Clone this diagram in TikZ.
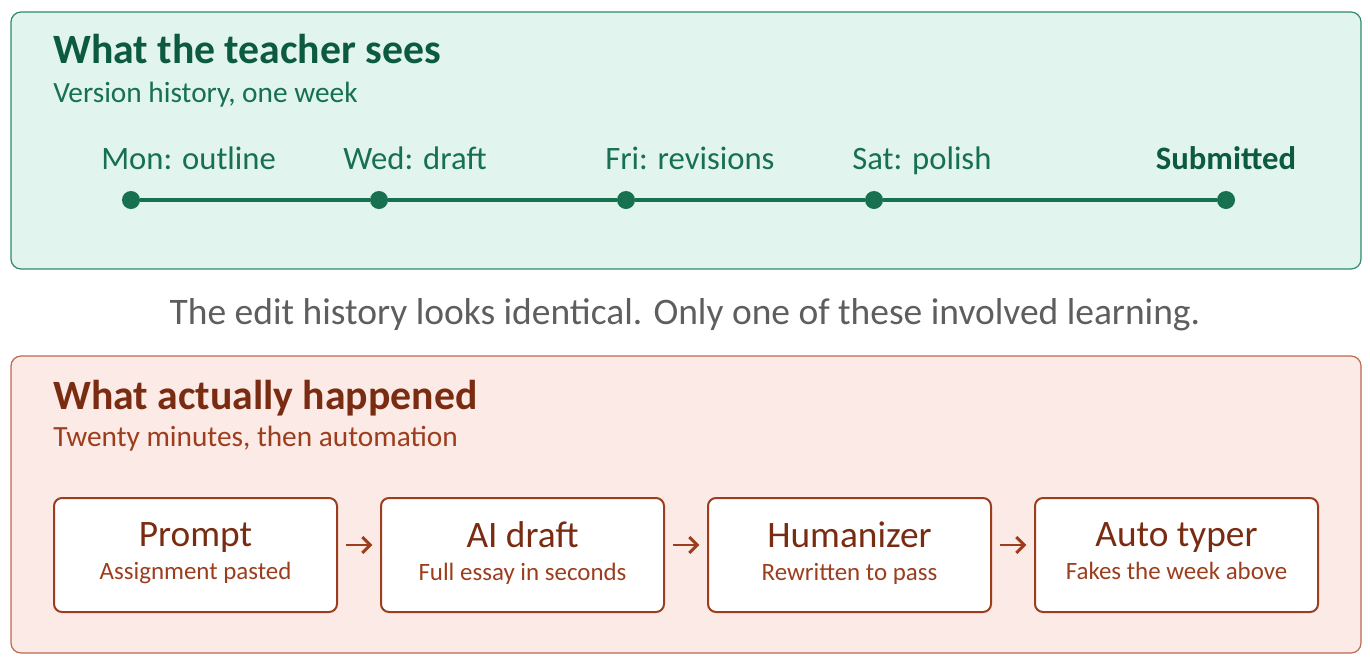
\documentclass[tikz,border=0pt]{standalone}
\usepackage{fontspec}
\setmainfont{Carlito}
\usetikzlibrary{positioning}
\usetikzlibrary{arrows.meta}

\definecolor{seefill}{HTML}{E1F4EE}
\definecolor{seeline}{HTML}{2F8A68}
\definecolor{seedark}{HTML}{0C5A3F}
\definecolor{seemid}{HTML}{17704F}
\definecolor{realfill}{HTML}{FBEAE5}
\definecolor{realline}{HTML}{BB6A4E}
\definecolor{realdark}{HTML}{7A2C12}
\definecolor{realmid}{HTML}{9C3E1E}
\definecolor{midgray}{HTML}{5E5E5E}

\newcommand{\steptitle}[1]{{\fontsize{28pt}{25pt}\selectfont\color{realdark}#1}}
\newcommand{\stepnote}[1]{{\fontsize{18.7pt}{25pt}\selectfont\color{realmid}#1\rule[-6pt]{0pt}{0pt}}}

\begin{document}
\begin{tikzpicture}[x=0.75pt,y=-0.75pt,
    panel/.style={rounded corners=7.5pt,line width=0.9pt},
    paneltitle/.style={anchor=base west,inner sep=0pt,font=\fontsize{31.3pt}{36pt}\selectfont\bfseries},
    panelsub/.style={anchor=base west,inner sep=0pt,font=\fontsize{22pt}{26pt}\selectfont},
    dot/.style={circle,fill=seemid,minimum size=13.5pt,inner sep=0pt},
    daylbl/.style={inner sep=0pt,text=seemid,font=\fontsize{24.5pt}{28pt}\selectfont},
    stepbox/.style={draw=realmid,fill=white,line width=1.5pt,rounded corners=6pt,outer sep=0pt,
      minimum width=212.25pt,minimum height=85.5pt,align=center,
      font=\fontsize{18.7pt}{24.75pt}\selectfont},
    stepflow/.style={-{Straight Barb[length=6pt,width=12pt,line width=2.2pt]},draw=realmid,line width=2.2pt,
      shorten <=7pt,shorten >=6.5pt}]
  \useasboundingbox (0,0) rectangle (1370,665);

  % upper panel: the version history
  \draw[panel,draw=seeline,fill=seefill] (11,12) rectangle (1361,269);
  \node[paneltitle,text=seedark] (seetitle) at (53,63) {What the teacher sees};
  \node[panelsub,text=seemid] (seesub) at (53,102) {Version history, one week};

  \foreach \x/\n in {131/mon,379/wed,626/fri,874/sat,1226/sub}
    \node[dot] (\n) at (\x,200) {};
  \draw[seemid,line width=2.6pt] (mon) -- (wed) -- (fri) -- (sat) -- (sub);

  \foreach \x/\n/\t in {101/mon/Mon: outline,343/wed/Wed: draft,605/fri/Fri: revisions,852/sat/Sat: polish}
    \node[daylbl,anchor=base west] (\n-lbl) at (\x,169) {\t};
  \node[daylbl,anchor=base,font=\fontsize{24.5pt}{28pt}\selectfont\bfseries,text=seedark] (sub-lbl) at (1226,169) {Submitted};

  \node[anchor=base,inner sep=0pt,text=midgray,font=\fontsize{28.1pt}{32pt}\selectfont] (gapnote) at (685,324)
    {The edit history looks identical. Only one of these involved learning.};

  % lower panel: the pipeline
  \draw[panel,draw=realline,fill=realfill] (11,356) rectangle (1361,653);
  \node[paneltitle,text=realdark] (realtitle) at (53,409) {What actually happened};
  \node[panelsub,text=realmid] (realsub) at (53,446) {Twenty minutes, then automation};

  \node[stepbox] (prompt) at (195.5,555) {\steptitle{Prompt}\\\stepnote{Assignment pasted}};
  \node[stepbox,right=33pt of prompt] (aidraft) {\steptitle{AI draft}\\\stepnote{Full essay in seconds}};
  \node[stepbox,right=33pt of aidraft] (human) {\steptitle{Humanizer}\\\stepnote{Rewritten to pass}};
  \node[stepbox,right=33pt of human] (typer) {\steptitle{Auto typer}\\\stepnote{Fakes the week above}};

  \draw[stepflow] ([yshift=7.5pt]prompt.east) -- ([yshift=7.5pt]aidraft.west);
  \draw[stepflow] ([yshift=7.5pt]aidraft.east) -- ([yshift=7.5pt]human.west);
  \draw[stepflow] ([yshift=7.5pt]human.east) -- ([yshift=7.5pt]typer.west);
\end{tikzpicture}
\end{document}
